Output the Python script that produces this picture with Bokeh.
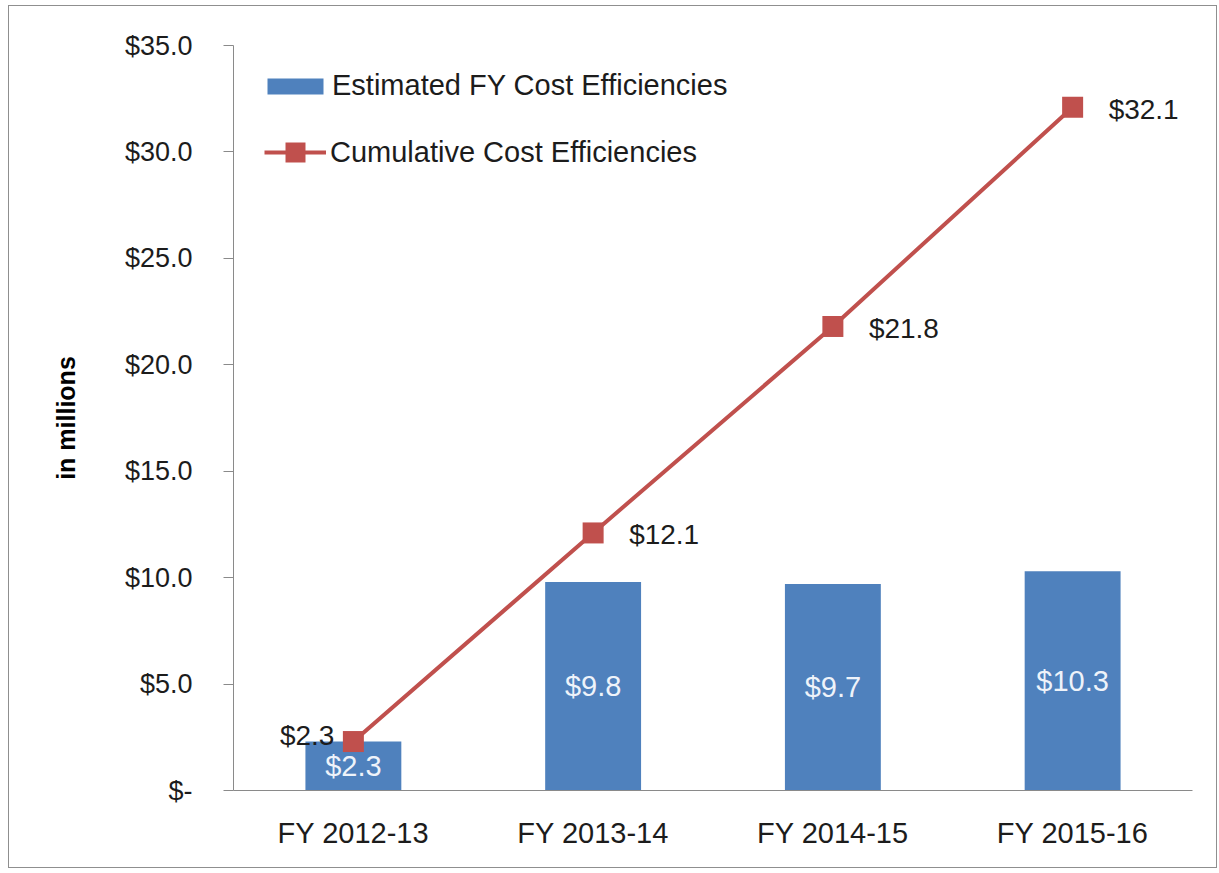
from bokeh.plotting import figure
from bokeh.models import ColumnDataSource, FactorRange, Range1d, FixedTicker, Legend, LegendItem
from bokeh.core.properties import value
from bokeh.embed import file_html
from bokeh.resources import INLINE

categories = ["FY 2012-13", "FY 2013-14", "FY 2014-15", "FY 2015-16"]
annual = [2.3, 9.8, 9.7, 10.3]
cumulative = [2.3, 12.1, 21.8, 32.1]
y_ticks = [0, 5, 10, 15, 20, 25, 30, 35]

BAR = "#4F81BD"
LINE = "#C0504D"
FONT = "Liberation Sans"
TXT = "#1c1c1c"

def money(v):
    return "$-" if v == 0 else "${:.1f}".format(v)

src = ColumnDataSource(dict(
    cat=categories,
    annual=annual,
    cum=cumulative,
    half=[v / 2 for v in annual],
    annual_lbl=[money(v) for v in annual],
    cum_lbl=[money(v) for v in cumulative],
))
src_first = ColumnDataSource(dict(cat=categories[:1], cum=cumulative[:1], cum_lbl=[money(v) for v in cumulative[:1]]))
src_rest = ColumnDataSource(dict(cat=categories[1:], cum=cumulative[1:], cum_lbl=[money(v) for v in cumulative[1:]]))

p = figure(width=1209, height=863, x_range=FactorRange(*categories, range_padding=0),
           y_range=Range1d(0, 35), output_backend="svg", toolbar_location=None,
           min_border_left=224, min_border_right=26, min_border_top=39, min_border_bottom=79)
p.styles = {"border": "1px solid #8f8f8f", "margin-left": "8px", "margin-top": "5px"}
p.outline_line_color = None
p.grid.grid_line_color = None
p.background_fill_color = "white"
p.border_fill_color = "white"

bars = p.vbar(x="cat", top="annual", width=0.4, source=src, fill_color=BAR, line_color=None)
line = p.line(x="cat", y="cum", source=src, line_color=LINE, line_width=4)
marks = p.scatter(x="cat", y="cum", source=src, marker="square", size=21, fill_color=LINE, line_color=None)

p.text(x="cat", y="half", text="annual_lbl", source=src, text_align="center", text_baseline="middle",
       text_font=value(FONT), text_font_size="29px", text_color="#EEF3FA")
p.text(x="cat", y="cum", text="cum_lbl", source=src_rest, text_align="left", text_baseline="middle",
       x_offset=36, y_offset=2, text_font=value(FONT), text_font_size="28px", text_color=TXT)
p.text(x="cat", y="cum", text="cum_lbl", source=src_first, text_align="right", text_baseline="middle",
       x_offset=-19, y_offset=-6, text_font=value(FONT), text_font_size="28px", text_color=TXT)

# axes
p.yaxis.ticker = FixedTicker(ticks=y_ticks)
p.yaxis.major_label_overrides = {t: money(t) for t in y_ticks}
p.yaxis.minor_tick_line_color = None
p.yaxis.major_tick_in = 0
p.yaxis.major_tick_out = 10
p.yaxis.major_label_standoff = 31
p.yaxis.axis_line_color = "#8a8a8a"
p.yaxis.major_tick_line_color = "#8a8a8a"
p.yaxis.major_label_text_font = FONT
p.yaxis.major_label_text_font_size = "27px"
p.yaxis.major_label_text_color = TXT
p.yaxis.axis_label = "in millions"
p.yaxis.axis_label_text_font = FONT
p.yaxis.axis_label_text_font_size = "25px"
p.yaxis.axis_label_text_font_style = "bold"
p.yaxis.axis_label_text_color = "#000000"
p.yaxis.axis_label_standoff = 42

p.xaxis.major_tick_line_color = None
p.xaxis.major_tick_out = 0
p.xaxis.major_tick_in = 0
p.xaxis.minor_tick_line_color = None
p.xaxis.axis_line_color = "#8a8a8a"
p.xaxis.major_label_standoff = 26
p.xaxis.major_label_text_font = FONT
p.xaxis.major_label_text_font_size = "29px"
p.xaxis.major_label_text_color = TXT

leg1 = Legend(items=[LegendItem(label="Estimated FY Cost Efficiencies", renderers=[bars])],
              location=(27, 688), margin=0, padding=0, glyph_width=70, glyph_height=20,
              label_standoff=2, border_line_alpha=0, background_fill_alpha=0,
              label_text_font=FONT, label_text_font_size="29px", label_text_color=TXT)
leg2 = Legend(items=[LegendItem(label="Cumulative Cost Efficiencies", renderers=[line, marks])],
              location=(31, 613), margin=0, padding=0, glyph_width=62, glyph_height=50,
              label_standoff=4, border_line_alpha=0, background_fill_alpha=0,
              label_text_font=FONT, label_text_font_size="29px", label_text_color=TXT)
p.add_layout(leg1, "center")
p.add_layout(leg2, "center")

open("out.html", "w").write(file_html(p, INLINE))
